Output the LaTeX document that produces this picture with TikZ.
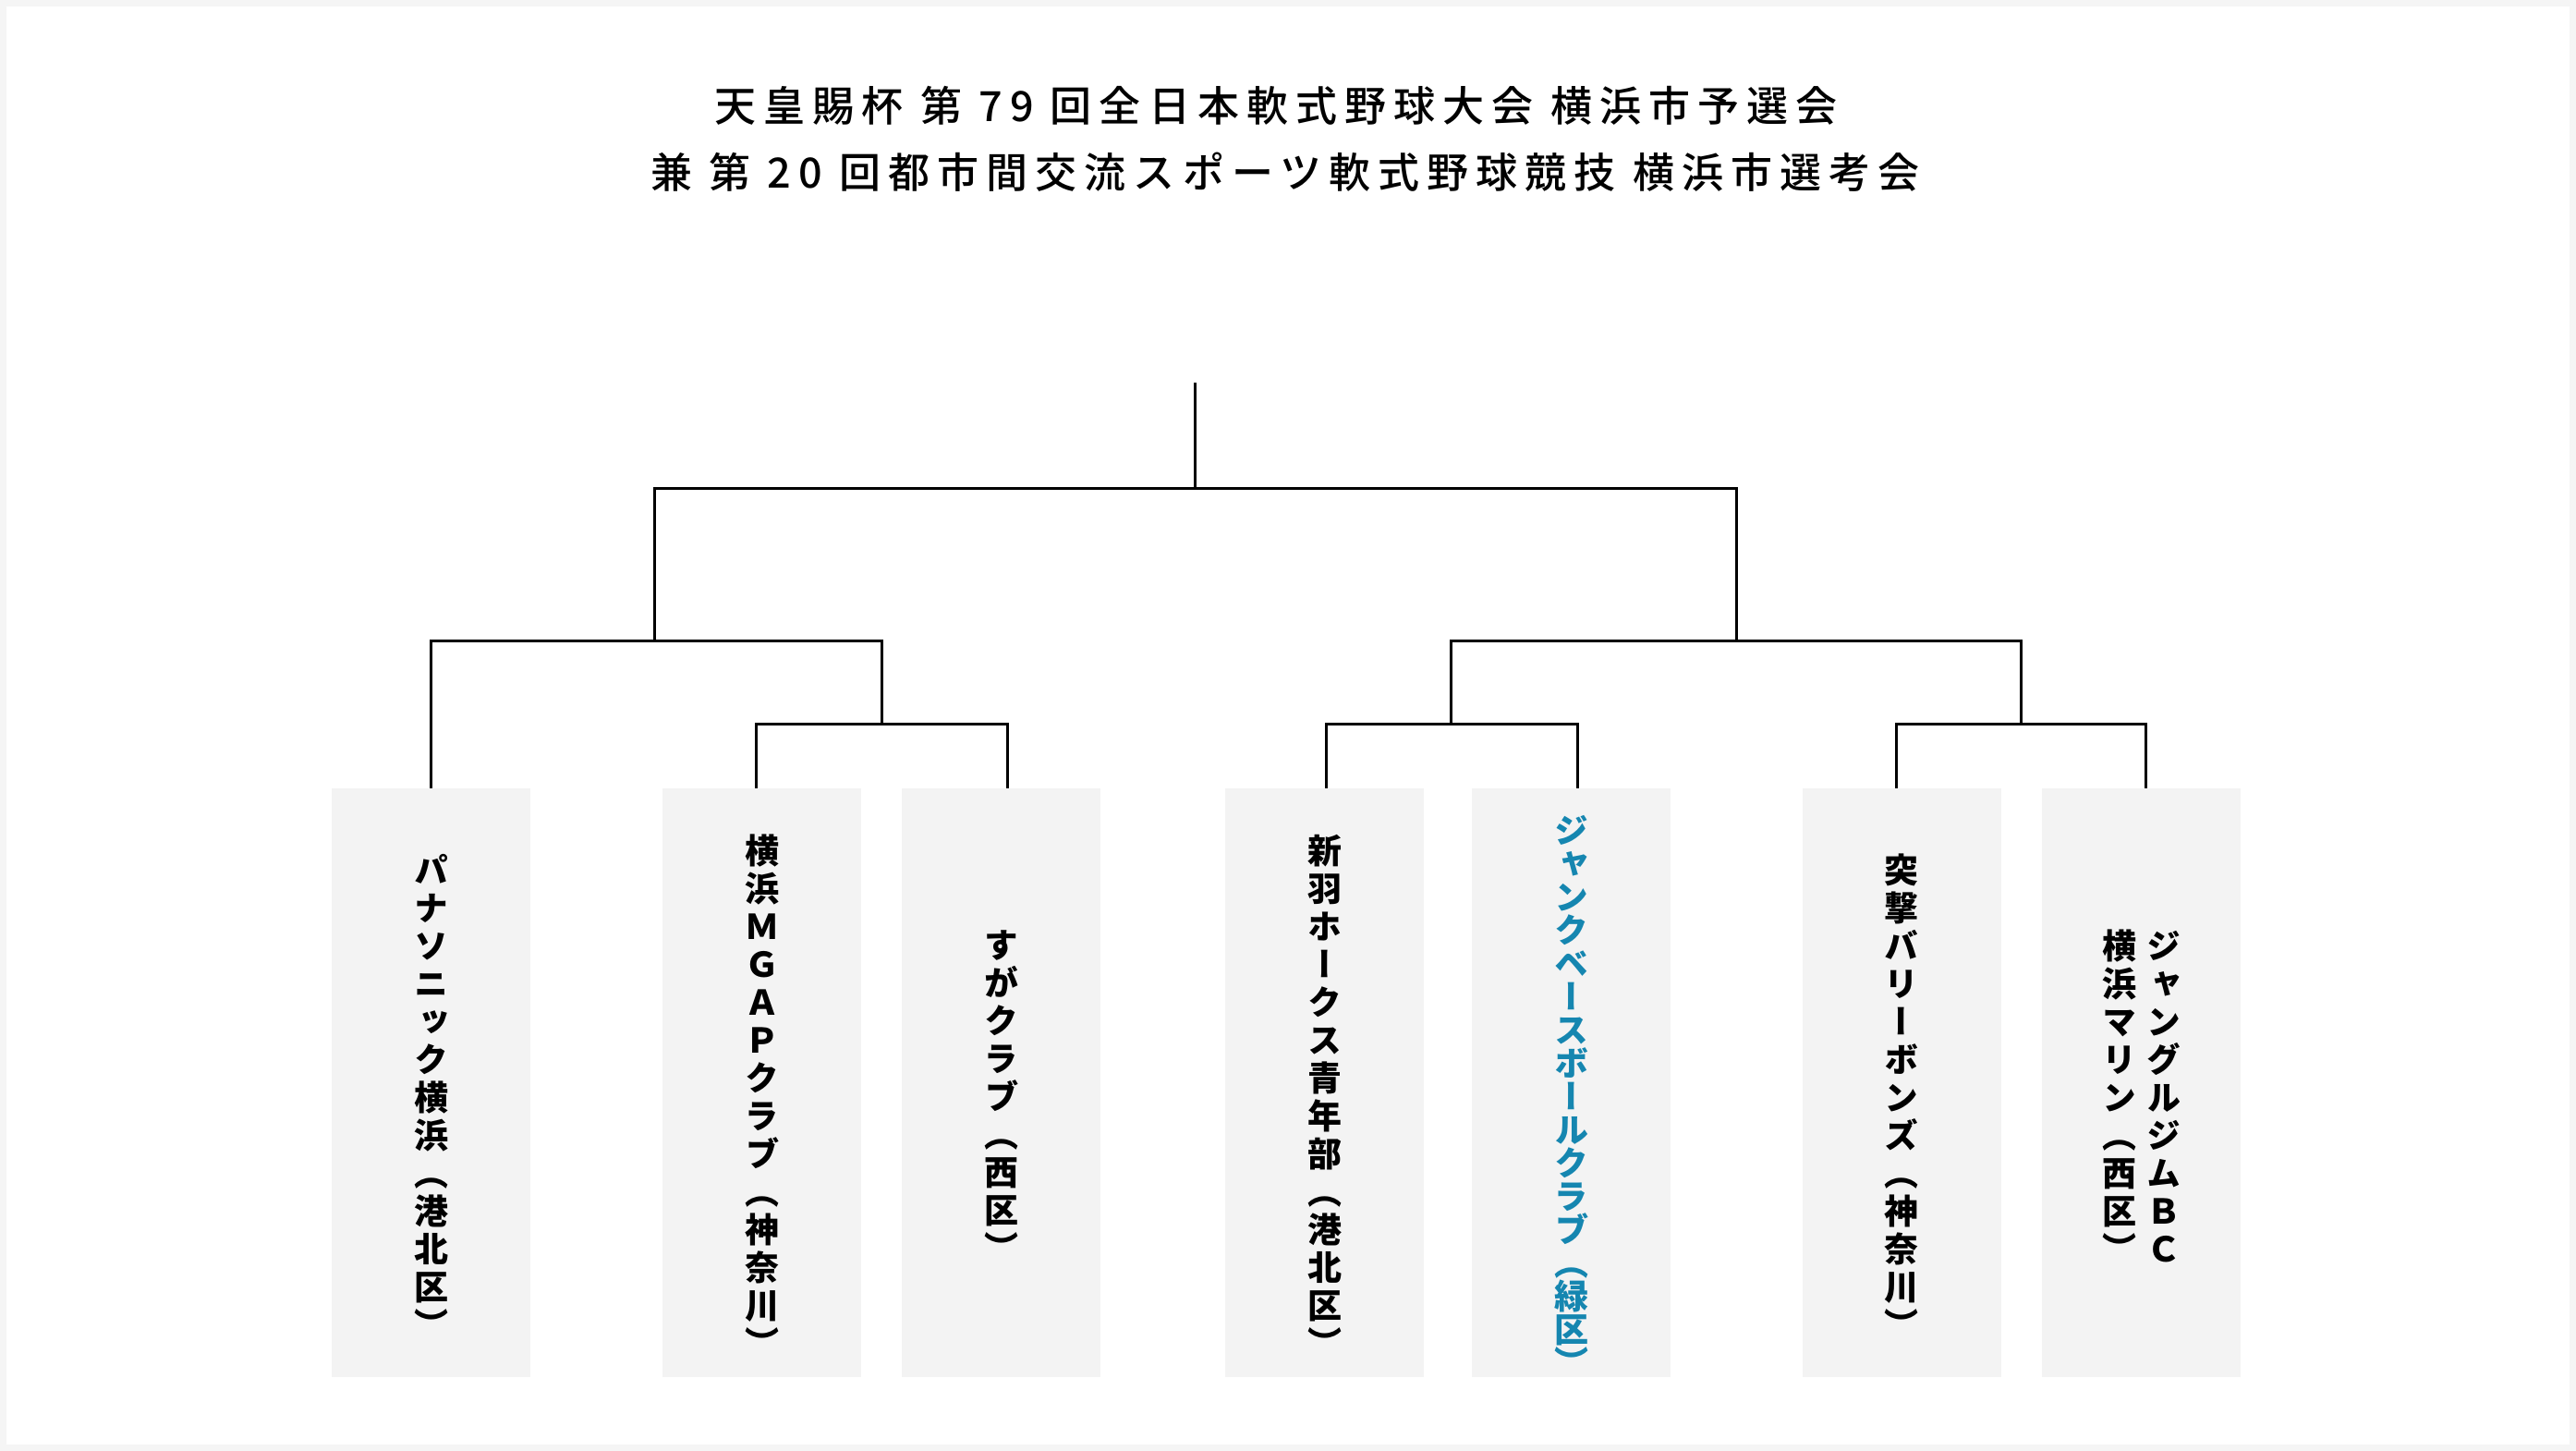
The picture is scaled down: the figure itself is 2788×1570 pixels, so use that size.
\documentclass[tikz,border=0pt]{standalone}
\usepackage{fontspec}
\setmainfont{Noto Sans CJK JP}
\newfontfamily\titlefont{Noto Sans CJK JP Medium}[LetterSpace=18]
\newfontfamily\tatefont{Noto Sans CJK JP}[RawFeature=+vert]
\definecolor{boxgray}{HTML}{F3F3F3}
\definecolor{framegray}{HTML}{F5F5F5}
\definecolor{teamblue}{HTML}{1586B0}
% vertical stack, one glyph per line
\let\tateend\relax
\def\tateloop#1{\ifx#1\tateend\else\hbox to 40pt{\hss#1\hss}\expandafter\tateloop\fi}
\newcommand\tate[2][41pt]{\vbox{\vskip28pt\hbox{\vtop{\baselineskip=#1\lineskiplimit=-\maxdimen\tateloop#2\tateend}}}}
\begin{document}
\begin{tikzpicture}[x=1pt,y=-1pt,
    team/.style={fill=boxgray,minimum width=215pt,minimum height=637pt,inner sep=0pt,
      font=\tatefont\bfseries\fontsize{37}{41}\selectfont},
    bracket/.style={line width=3pt},
    heading/.style={align=center,font=\titlefont\fontsize{45}{72}\selectfont}]
    \useasboundingbox (0,0) rectangle (2788,1570);
    \draw [framegray,line width=7pt] (3.5,3.5) rectangle (2784.5,1566.5);
    \node [heading] (title) at (1391,150) {天皇賜杯 第 79 回全日本軟式野球大会 横浜市予選会\hspace*{20pt}\\兼 第 20 回都市間交流スポーツ軟式野球競技 横浜市選考会};
    \node [team] (t1) at (466.5,1171.5) {\tate{パナソニック横浜（港北区）}};
    \node [team] (t2) at (824.5,1171.5) {\tate{横浜ＭＧＡＰクラブ（神奈川）}};
    \node [team] (t3) at (1083.5,1171.5) {\tate{すがクラブ（西区）}};
    \node [team] (t4) at (1433.5,1171.5) {\tate{新羽ホークス青年部（港北区）}};
    \node [team,text=teamblue] (t5) at (1700.5,1171.5) {\tate[36pt]{ジャンクベースボールクラブ（緑区）}};
    \node [team] (t6) at (2058,1171.5) {\tate{突撃バリーボンズ（神奈川）}};
    \node [team] (t7) at (2317.5,1171.5) {\tate{横浜マリン（西区）}\hskip8pt\tate{ジャングルジムＢＣ}};
    \coordinate (top) at (1293,414);
    \coordinate (j0) at (1293,528);
    \coordinate (jL) at (708,693);
    \coordinate (jR) at (1879,693);
    \coordinate (jA) at (954,783);
    \coordinate (jB) at (1570,783);
    \coordinate (jC) at (2187,783);
    \draw [bracket] (top) -- (j0);
    \draw [bracket] (jL) |- (j0) -| (jR);
    \draw [bracket] (t1.north) |- (jL) -| (jA);
    \draw [bracket] ([xshift=-6.5pt]t2.north) |- (jA) -| ([xshift=6.5pt]t3.north);
    \draw [bracket] ([xshift=1.5pt]t4.north) |- (jB) -| ([xshift=6.5pt]t5.north);
    \draw [bracket] (jB) |- (jR) -| (jC);
    \draw [bracket] ([xshift=-6pt]t6.north) |- (jC) -| ([xshift=4.5pt]t7.north);
\end{tikzpicture}
\end{document}
